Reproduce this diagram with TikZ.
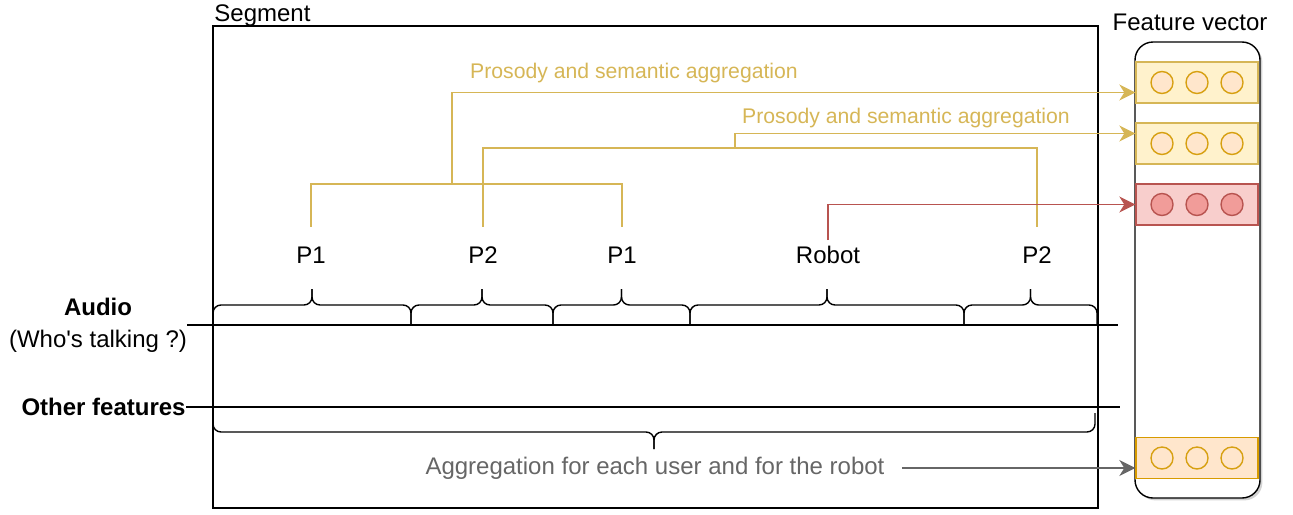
\documentclass[tikz,border=0pt]{standalone}
\usepackage{fontspec}
\setmainfont{Liberation Sans}
\usetikzlibrary{arrows.meta,positioning,shapes.misc,shadows}

\definecolor{aggline}{HTML}{D6B656}
\definecolor{aggfill}{HTML}{FFF2CC}
\definecolor{dotfill}{HTML}{FFE6CC}
\definecolor{dotline}{HTML}{D79B00}
\definecolor{robline}{HTML}{B85450}
\definecolor{robfill}{HTML}{F8CECC}
\definecolor{robdot}{HTML}{F19C99}
\definecolor{greytxt}{HTML}{666666}

% curly bracket: x1, x2, base, flat, tip
\newcommand\segbrace[5]{%
  \pgfmathsetmacro\bmid{(#1+#2)/2}
  \draw[curly] (#1,#3) -- (#1,#4) -- (\bmid,#4) -- (\bmid,#5);
  \draw[curly] (#2,#3) -- (#2,#4) -- (\bmid,#4) -- (\bmid,#5);
}

\begin{document}
\begin{tikzpicture}[x=0.5pt,y=-0.5pt,
  font=\fontsize{12}{16}\selectfont,
  every node/.append style={inner sep=0pt},
  tip/.style={-{Stealth[length=8pt,width=8pt,inset=2.5pt]}},
  spk/.style={outer ysep=10pt},
  curly/.style={line width=0.7pt,rounded corners=4pt},
  agg/.style={draw=aggline,line width=0.7pt},
  prostxt/.style={text=aggline,font=\fontsize{10.6}{12}\selectfont},
  yrow/.style={draw=aggline,fill=aggfill,line width=0.7pt,minimum width=61pt,minimum height=20.5pt},
  rrow/.style={yrow,draw=robline,fill=robfill},
  orow/.style={yrow,draw=dotline,fill=dotfill},
  ydot/.style={circle,draw=dotline!80!aggline,fill=dotfill,line width=0.7pt,minimum size=11pt},
  rdot/.style={ydot,draw=robline,fill=robdot}]
  \useasboundingbox (0,0) rectangle (1293,514);

  % segment and feature vector
  \node[draw,line width=0.7pt,minimum width=442.5pt,minimum height=241pt] (seg) at (655.5,267) {};
  \node[anchor=base west] (segtxt) at (214,21) {Segment};
  \node[draw,fill=white,line width=0.7pt,rounded corners=9pt,minimum width=62.5pt,minimum height=228pt,
    drop shadow={shadow xshift=1.2pt,shadow yshift=-1.2pt,opacity=0.35}] (fvec) at (1197.5,270) {};
  \node (fvtxt) at (1190,22) {Feature vector};

  \foreach \r/\y/\sty/\dsty in {1/82.5/yrow/ydot,2/143.5/yrow/ydot,3/204.5/rrow/rdot,4/458/orow/ydot}{
    \node[\sty] (row\r) at (1197,\y) {};
    \foreach \i/\dx in {1/-35,2/0,3/35}
      \node[\dsty] (d\r\i) at ([xshift=\dx*0.5pt]row\r.center) {};
  }

  % tracks
  \node[align=center] (audio) at (98,325) {\textbf{Audio}\\(Who\textquotesingle s talking ?)};
  \node[anchor=east] (other) at (186,407) {\textbf{Other features}};
  \coordinate (audend) at (1118,325);
  \coordinate (othend) at (1120,407);
  \draw[line width=0.7pt] (audio.east) -- (audend);
  \draw[line width=0.7pt] (other.east) -- (othend);

  \segbrace{213}{411}{325}{305}{289}
  \segbrace{411}{553}{325}{305}{289}
  \segbrace{553}{690}{325}{305}{289}
  \segbrace{690}{964}{325}{305}{289}
  \segbrace{964}{1097}{325}{305}{289}
  \segbrace{1095}{213}{413}{432}{449}

  % speakers
  \node[spk] (p1a) at (311,255) {P1};
  \node[spk] (p2a) at (483,255) {P2};
  \node[spk] (p1b) at (622,255) {P1};
  \node[spk] (robot) at (828,255) {Robot};
  \node[spk] (p2b) at (1037,255) {P2};

  \coordinate (j1) at (452,184);
  \coordinate (j2) at (735,148);
  \draw[agg] (p1a) |- (j1) -| (p1b);
  \draw[agg] (p2a) |- (j2) -| (p2b);
  \draw[agg,tip] (j1) |- ([yshift=-5pt]row1.west);
  \draw[agg,tip] (j2) |- ([yshift=5pt]row2.west);
  \node[prostxt] (pros1) at (634,73) {Prosody and semantic aggregation};
  \node[prostxt] (pros2) at (906,118) {Prosody and semantic aggregation};

  \draw[robline,line width=0.7pt,tip,shorten <=-7pt] (robot) |- (row3.west);

  \node[text=greytxt] (aggtxt) at (655,468) {Aggregation for each user and for the robot};
  \draw[greytxt,line width=0.7pt,tip,shorten <=8.5pt] (aggtxt) -- (aggtxt -| row4.west);
\end{tikzpicture}
\end{document}
